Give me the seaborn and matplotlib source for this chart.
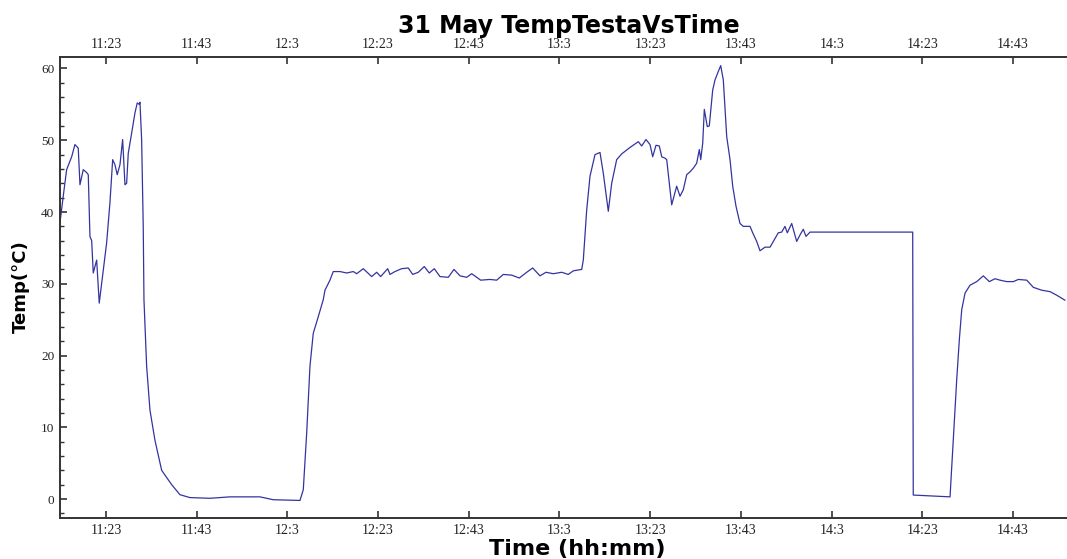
# Grafico de temperatura de la testa vs tiempo (31 May)

import matplotlib
matplotlib.use('Agg')
import matplotlib.pyplot as plt
from matplotlib.ticker import MultipleLocator
import seaborn as sns
import pandas as pd

# --- Datos (minutos desde medianoche, temperatura en C) ---
minutos = [672.86, 673.58, 674.33, 675.44, 676.16, 676.89, 677.27, 677.99, 678.74, 679.10,
           679.47, 679.85, 680.20, 680.95, 681.52, 682.40, 683.15, 683.88, 684.48, 684.98,
           685.49, 686.09, 686.68, 687.19, 687.56, 687.92, 688.67, 689.39, 689.90, 690.34,
           690.50, 690.87, 691.22, 691.38, 691.97, 692.70, 693.80, 695.28, 697.49, 699.32,
           701.52, 705.93, 710.34, 716.96, 719.89, 725.78, 726.51, 727.26, 727.98, 728.71,
           729.81, 730.92, 731.29, 732.39, 733.12, 734.60, 736.08, 737.53, 738.28, 739.74,
           741.59, 742.69, 743.57, 745.12, 745.62, 746.73, 748.20, 749.66, 750.63, 751.86,
           753.19, 754.29, 755.39, 756.65, 758.48, 759.74, 761.06, 762.54, 763.64, 765.62,
           767.67, 769.15, 770.61, 772.46, 774.14, 775.77, 777.09, 778.70, 780.02, 781.63,
           783.49, 784.94, 786.04, 787.90, 788.25, 789.00, 789.73, 790.83, 791.93, 792.66,
           793.76, 794.51, 795.61, 796.72, 798.55, 800.38, 801.12, 802.07, 802.96, 803.55,
           804.28, 805.01, 805.54, 806.26, 806.64, 807.74, 808.84, 809.57, 810.30, 811.05,
           811.78, 812.50, 813.25, 813.83, 814.14, 814.58, 814.93, 815.59, 816.03, 816.78,
           817.29, 818.02, 818.55, 819.12, 819.87, 820.60, 821.19, 821.92, 822.80, 823.53,
           825.01, 825.60, 826.48, 827.21, 828.31, 829.42, 830.14, 831.24, 831.99, 832.72,
           833.23, 834.20, 835.30, 836.03, 836.76, 837.35, 838.24, 860.88, 861.00, 869.11,
           870.58, 871.16, 871.69, 872.42, 873.52, 875.00, 876.45, 877.77, 879.03, 880.13,
           881.61, 883.07, 884.17, 886.02, 887.48, 889.33, 891.16, 892.64, 894.47]

temperatura = [38.5, 42.2, 45.9, 47.7, 49.4, 48.9, 43.8, 45.9, 45.5, 45.2,
               36.6, 36.0, 31.5, 33.3, 27.3, 31.9, 35.7, 41.3, 47.3, 46.6,
               45.2, 46.6, 50.1, 43.8, 44.0, 48.2, 51.0, 53.8, 55.2, 55.0,
               55.3, 50.0, 38.0, 27.8, 18.5, 12.4, 8.2, 4.0, 2.0, 0.6,
               0.2, 0.1, 0.3, 0.3, -0.1, -0.2, 1.3, 9.2, 18.5, 23.1,
               25.4, 27.8, 29.1, 30.5, 31.7, 31.7, 31.5, 31.7, 31.4, 32.1,
               31.0, 31.6, 31.0, 32.1, 31.3, 31.7, 32.1, 32.2, 31.3, 31.6,
               32.4, 31.5, 32.1, 31.0, 30.9, 32.0, 31.1, 30.9, 31.4, 30.5,
               30.6, 30.5, 31.3, 31.2, 30.8, 31.6, 32.2, 31.1, 31.6, 31.4,
               31.6, 31.3, 31.8, 32.0, 33.3, 40.3, 45.0, 48.0, 48.3, 45.4,
               40.1, 44.0, 47.3, 48.1, 49.0, 49.8, 49.2, 50.1, 49.4, 47.7,
               49.3, 49.2, 47.7, 47.5, 47.3, 41.0, 43.6, 42.2, 43.1, 45.2,
               45.6, 46.1, 46.8, 48.7, 47.3, 49.6, 54.3, 51.9, 52.0, 57.0,
               58.4, 59.6, 60.4, 58.4, 50.5, 47.3, 43.6, 40.8, 38.4, 38.0,
               38.0, 37.1, 35.9, 34.6, 35.1, 35.1, 35.9, 37.1, 37.2, 38.0,
               37.1, 38.4, 35.9, 36.8, 37.6, 36.6, 37.2, 37.2, 0.55, 0.3,
               16.6, 22.2, 26.4, 28.7, 29.8, 30.3, 31.1, 30.3, 30.7, 30.5,
               30.3, 30.3, 30.6, 30.5, 29.5, 29.1, 28.9, 28.4, 27.7]

ticks_minutos = [683, 703, 723, 743, 763, 783, 803, 823, 843, 863, 883]
ticks_etiquetas = ['11:23', '11:43', '12:3', '12:23', '12:43', '13:3',
                   '13:23', '13:43', '14:3', '14:23', '14:43']

df = pd.DataFrame({'minutos': minutos, 'temperatura': temperatura})

# --- Estilo ---
sns.set_theme(style="ticks")
plt.rcParams['font.family'] = ['Liberation Serif', 'DejaVu Serif']

fig = plt.figure(figsize=(10.67, 5.59), dpi=100)
ax = fig.add_axes([0.0562, 0.0733, 0.9438, 0.8247])

sns.lineplot(data=df, x='minutos', y='temperatura', ax=ax, color='#3434a0',
             linewidth=0.9, sort=False, estimator=None)

ax.set_xlabel('')
ax.set_ylabel('')
ax.set_xlim(672.86, 894.9)
ax.set_ylim(-2.65, 61.6)
ax.set_xticks(ticks_minutos)
ax.set_xticklabels(ticks_etiquetas)
ax.set_yticks([0, 10, 20, 30, 40, 50, 60])
ax.yaxis.set_minor_locator(MultipleLocator(2))

ax.tick_params(axis='both', which='both', direction='in', colors='#333333',
               labelcolor='#222222', labelsize=10)
ax.tick_params(axis='x', which='major', length=5, width=1.2, top=True, labeltop=True, pad=4)
ax.tick_params(axis='y', which='major', length=5, width=1.2, pad=4, labelsize=9.5)
ax.tick_params(axis='y', which='minor', length=3, width=1.0)

for lado in ['left', 'bottom', 'top']:
    ax.spines[lado].set_visible(True)
    ax.spines[lado].set_linewidth(1.4)
    ax.spines[lado].set_color('#333333')
ax.spines['right'].set_visible(False)

# Textos en negrita (sans, mas ancha para parecerse al original)
fuente_titulo = ['DejaVu Sans']
fig.text(0.541, 0.007, 'Time (hh:mm)', ha='center', va='baseline',
         fontsize=16, fontweight='bold', family=fuente_titulo, color='black')
fig.text(0.028, 0.4875, 'Temp(°C)', ha='right', va='center', rotation=90,
         fontsize=13, fontweight='bold', family=fuente_titulo, color='black')
fig.text(0.533, 0.941, '31 May TempTestaVsTime', ha='center', va='baseline',
         fontsize=17, fontweight='bold', family=fuente_titulo, color='black')

plt.savefig('out.png', dpi=100)
plt.close()
